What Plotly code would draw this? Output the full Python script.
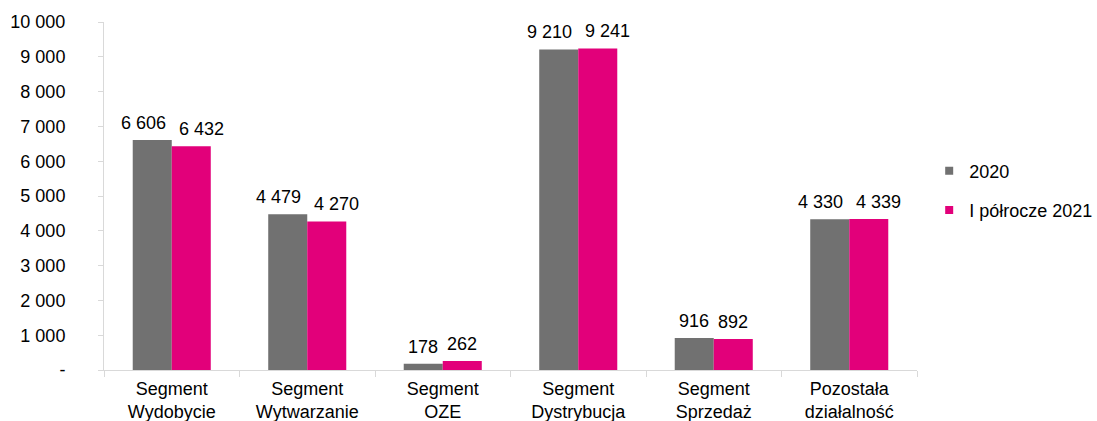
import plotly.graph_objects as go

categories = ["Segment<br>Wydobycie", "Segment<br>Wytwarzanie", "Segment<br>OZE",
              "Segment<br>Dystrybucja", "Segment<br>Sprzedaż", "Pozostała<br>działalność"]
series_names = ["2020", "I półrocze 2021"]
values_2020 = [6606, 4479, 178, 9210, 916, 4330]
values_2021 = [6432, 4270, 262, 9241, 892, 4339]
y_tickvals = [0, 1000, 2000, 3000, 4000, 5000, 6000, 7000, 8000, 9000, 10000]
y_ticktext = ["-", "1 000", "2 000", "3 000", "4 000", "5 000", "6 000", "7 000", "8 000", "9 000", "10 000"]


def fmt(v):
    return f"{v:,}".replace(",", " ")


font_family = "Liberation Sans, Arial, sans-serif"
colors = ["#717171", "#E2007A"]
FS = 18

fig = go.Figure()
for name, vals, col in zip(series_names, [values_2020, values_2021], colors):
    fig.add_trace(go.Bar(
        x=categories, y=vals, name=name, marker_color=col, marker_line_width=0,
        showlegend=False,
    ))
# legend entries with small square symbols
for name, col in zip(series_names, colors):
    fig.add_trace(go.Scatter(
        x=[None], y=[None], mode="markers", name=name, legendgroup=name,
        marker=dict(symbol="square", size=8, color=col),
    ))

# data labels (larger numbers pushed slightly apart as in the original)
half_bar = 19.5
for s, vals in enumerate([values_2020, values_2021]):
    sign = -1 if s == 0 else 1
    for cat, v in zip(categories, vals):
        extra = (9 if s == 0 else 10) if v >= 1000 else 0
        fig.add_annotation(
            x=cat, y=v, xref="x", yref="y", text=fmt(v), showarrow=False,
            xanchor="center", yanchor="bottom",
            xshift=sign * (half_bar + extra), yshift=5,
            font=dict(size=FS, color="#000000", family=font_family),
        )

fig.update_layout(
    width=1097, height=421,
    margin=dict(l=104, r=180, t=22, b=51, autoexpand=False),
    paper_bgcolor="white", plot_bgcolor="white",
    barmode="group", bargap=0.424, bargroupgap=0,
    font=dict(family=font_family, size=FS, color="#000000"),
    showlegend=True,
    legend=dict(x=1.015, y=0.516, xanchor="left", yanchor="middle",
                font=dict(size=FS), itemwidth=30, tracegroupgap=13,
                bgcolor="rgba(0,0,0,0)"),
)
fig.update_xaxes(
    showline=True, linecolor="#D9D9D9", linewidth=1,
    ticks="outside", tickson="boundaries", ticklen=6, tickcolor="#D9D9D9",
    showgrid=False, tickfont=dict(size=FS), ticklabelstandoff=2,
)
fig.update_yaxes(
    range=[0, 10000], tickvals=y_tickvals, ticktext=y_ticktext,
    showline=True, linecolor="#D9D9D9", linewidth=1,
    ticks="outside", ticklen=5, tickcolor="#D9D9D9",
    showgrid=False, zeroline=False, tickfont=dict(size=FS), ticklabelstandoff=29,
)

fig.write_html("out.html")
